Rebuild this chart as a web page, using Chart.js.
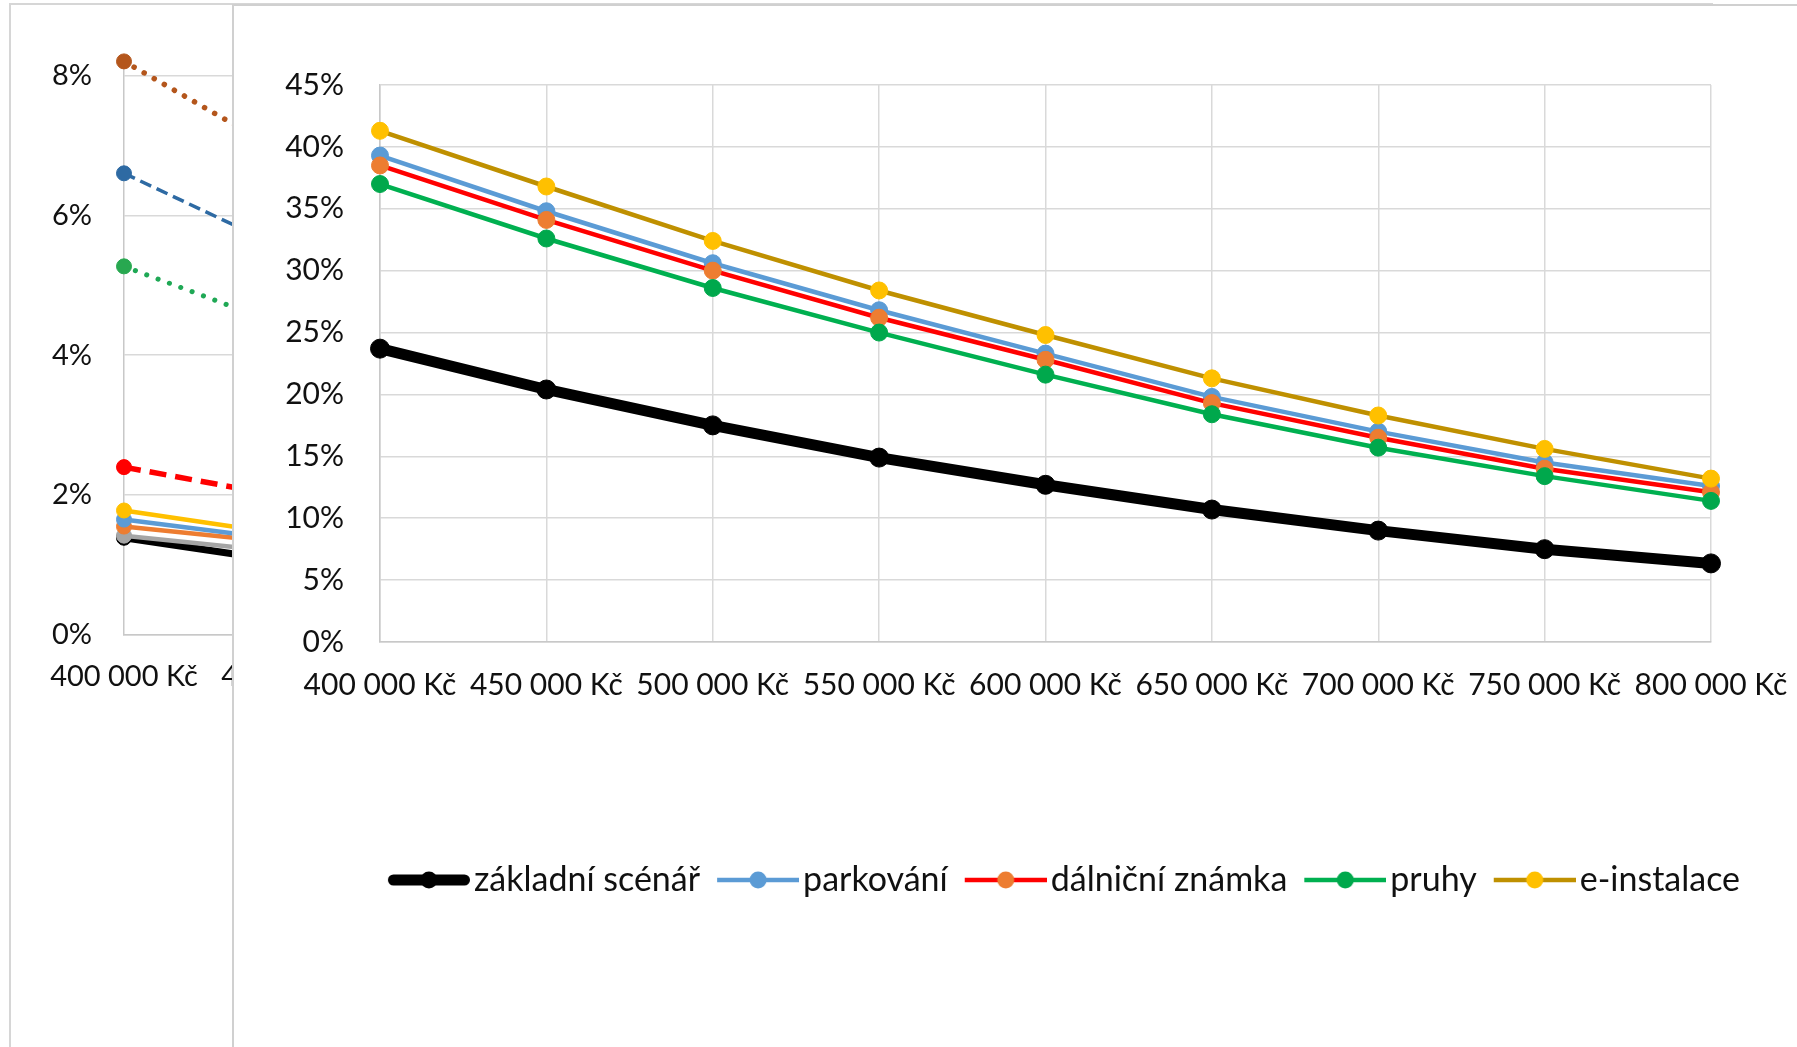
<!DOCTYPE html>
<html><head><meta charset="utf-8">
<script src="https://cdn.jsdelivr.net/npm/chart.js@4.4.1/dist/chart.umd.min.js"></script>
<style>
html,body{margin:0;padding:0;background:#fff;overflow:hidden;width:1797px;height:1047px;}
#bgBox{position:absolute;left:9px;top:3px;width:1700px;height:1100px;border:2px solid #D6D6D6;background:#fff;}
#mainBox{position:absolute;left:232px;top:4px;width:1700px;height:1100px;border:2px solid #D0D0D0;background:#fff;}
canvas{position:absolute;left:0;top:0;}
</style></head><body>
<div id="bgBox"><canvas id="bg" width="1600" height="1040"></canvas></div>
<div id="mainBox"><canvas id="main" width="1660" height="901"></canvas></div>
<script>
// ---- categories ----
const categories = ['400 000 Kč','450 000 Kč','500 000 Kč','550 000 Kč','600 000 Kč','650 000 Kč','700 000 Kč','750 000 Kč','800 000 Kč'];

// ---- main chart series (%) ----
const zakladniScenar = [23.7, 20.4, 17.5, 14.9, 12.7, 10.7, 9.0, 7.5, 6.35];
const parkovani      = [39.3, 34.8, 30.6, 26.8, 23.3, 19.8, 17.0, 14.5, 12.6];
const dalnicniZnamka = [38.5, 34.1, 30.0, 26.2, 22.8, 19.3, 16.5, 14.0, 12.1];
const pruhy          = [37.0, 32.6, 28.6, 25.0, 21.6, 18.4, 15.7, 13.4, 11.4];
const eInstalace     = [41.3, 36.8, 32.4, 28.4, 24.8, 21.3, 18.3, 15.6, 13.2];
const mainTicks = [0,5,10,15,20,25,30,35,40,45];

// ---- background (partly hidden) chart: only visible segment read ----
const bgBrownDot   = [8.2, 6.8];
const bgBlueDash   = [6.6, 5.45];
const bgGreenDot   = [5.27, 4.36];
const bgRedDash    = [2.4, 1.95];
const bgYellow     = [1.78, 1.42];
const bgLightBlue  = [1.65, 1.34];
const bgOrange     = [1.55, 1.30];
const bgGray       = [1.42, 1.17];
const bgBlack      = [1.39, 1.03];
const bgTicks = [0,2,4,6,8];

Chart.defaults.font.family = 'Lato';
Chart.defaults.color = '#111';

const pct = v => v + '%';

// ---------- background chart ----------
function bgDs(data, color, w, dash, mark, cap) {
  return {data, borderColor: color, borderWidth: w, borderDash: dash || [], borderCapStyle: cap || 'butt',
    pointRadius: 7.5, pointBackgroundColor: mark, pointBorderColor: mark, pointBorderWidth: 1,
    fill: false, tension: 0, clip: false};
}
new Chart(document.getElementById('bg'), {
  type: 'line',
  data: {labels: categories, datasets: [
    bgDs(bgBrownDot, '#B4561C', 5.5, [0.1, 11.5], '#B4561C', 'round'),
    bgDs(bgBlueDash, '#2E6AA3', 3.5, [12, 6], '#2E6AA3'),
    bgDs(bgGreenDot, '#1FA855', 5, [0.1, 12], '#28A850', 'round'),
    bgDs(bgRedDash, '#FF0000', 5.5, [17, 9], '#FF0000'),
    bgDs(bgYellow, '#FFC000', 4.5, null, '#FFC000'),
    bgDs(bgLightBlue, '#5B9BD5', 4.5, null, '#5B9BD5'),
    bgDs(bgOrange, '#ED7D31', 4.5, null, '#ED7D31'),
    bgDs(bgGray, '#A5A5A5', 4.5, null, '#A5A5A5'),
    bgDs(bgBlack, '#000000', 7, null, '#000000')
  ]},
  options: {
    responsive: false, animation: false, devicePixelRatio: 1, events: [],
    layout: {padding: {top: 46, right: 119, left: 0, bottom: 0}},
    plugins: {legend: {display: false}, tooltip: {enabled: false}},
    scales: {
      x: {type: 'category', offset: false,
        grid: {display: false, drawTicks: false},
        border: {display: true, color: '#C8C8C8', width: 1.5},
        ticks: {font: {size: 29}, color: '#111', padding: 24, autoSkip: false, maxRotation: 0},
        afterFit: s => { s.height = 410; }},
      y: {min: 0, max: 8.3,
        afterBuildTicks: s => { s.ticks = bgTicks.map(v => ({value: v})); },
        grid: {color: '#D9D9D9', lineWidth: 1.5, drawTicks: false},
        border: {display: true, color: '#C8C8C8', width: 1.5},
        ticks: {font: {size: 29}, color: '#111', padding: 32, callback: pct},
        afterFit: s => { s.width = 113; }}
    }
  }
});

// ---------- main chart ----------
function glyph(lineColor, lw, markColor, r, round) {
  const c = document.createElement('canvas'); c.width = 95; c.height = 26;
  const g = c.getContext('2d');
  g.strokeStyle = lineColor; g.lineWidth = lw; g.lineCap = round ? 'round' : 'butt';
  const o = round ? lw / 2 : 0;
  g.beginPath(); g.moveTo(13 + o, 13); g.lineTo(95 - o, 13); g.stroke();
  g.fillStyle = markColor; g.beginPath(); g.arc(54, 13, r, 0, Math.PI * 2); g.fill();
  return c;
}
function mDs(label, data, line, lw, mark, r) {
  return {label, data, borderColor: line, borderWidth: lw, backgroundColor: mark,
    pointRadius: r, pointBackgroundColor: mark, pointBorderColor: mark, pointBorderWidth: 1,
    fill: false, tension: 0, clip: false, xAxisID: 'x', yAxisID: 'y',
    _glyph: glyph(line, lw === 11 ? 11 : 4.5, mark, 8.5, lw === 11)};
}
const mainSets = [
  mDs('e-instalace', eInstalace, '#BF9000', 4.5, '#FFC000', 8.5),
  mDs('pruhy', pruhy, '#00B050', 4.5, '#00A84C', 8.5),
  mDs('dálniční známka', dalnicniZnamka, '#FF0000', 4.5, '#ED7D31', 8.5),
  mDs('parkování', parkovani, '#5B9BD5', 4.5, '#5B9BD5', 8.5),
  mDs('základní scénář', zakladniScenar, '#000000', 11, '#000000', 9.5)
];
new Chart(document.getElementById('main'), {
  type: 'line',
  data: {labels: categories, datasets: mainSets},
  options: {
    responsive: false, animation: false, devicePixelRatio: 1, events: [],
    layout: {padding: {top: 79, right: 0, left: 0, bottom: 0}},
    plugins: {
      tooltip: {enabled: false},
      legend: {position: 'bottom', align: 'center', reverse: true,
        labels: {usePointStyle: true, pointStyleWidth: 69, padding: 17,
          font: {size: 34}, color: '#111',
          generateLabels: chart => Chart.defaults.plugins.legend.labels.generateLabels(chart)
            .map(it => Object.assign(it, {pointStyle: chart.data.datasets[it.datasetIndex]._glyph}))}}
    },
    scales: {
      x: {type: 'category', offset: false,
        grid: {color: '#D9D9D9', lineWidth: 1.5, drawTicks: false},
        border: {color: '#C8C8C8', width: 1.5},
        ticks: {font: {size: 30}, color: '#111', padding: 25, autoSkip: false, maxRotation: 0},
        afterFit: s => { s.height = 204; }},
      y: {min: 0, max: 45,
        afterBuildTicks: s => { s.ticks = mainTicks.map(v => ({value: v})); },
        grid: {color: '#D9D9D9', lineWidth: 1.5, drawTicks: false},
        border: {color: '#C8C8C8', width: 1.5},
        ticks: {font: {size: 30}, color: '#111', padding: 36, callback: pct},
        afterFit: s => { s.width = 146; }},
      spacer: {type: 'linear', position: 'right', display: true,
        grid: {display: false, drawTicks: false}, border: {display: false},
        ticks: {display: false},
        afterFit: s => { s.width = 183; }}
    }
  }
});
</script>
</body></html>
